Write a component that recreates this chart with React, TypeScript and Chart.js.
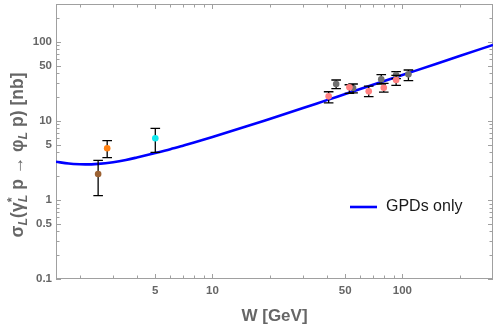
import React, { useEffect, useRef } from "react";
import { Chart, registerables } from "chart.js";

Chart.register(...registerables);

// ---- Model curve: GPDs only ----
const curveW = [1.5, 1.75, 2, 2.14, 2.5, 3, 3.5, 4, 5, 6, 7, 8, 10, 15, 20, 30, 40, 50, 70, 100, 150, 200, 300];
const curveSigma = [3.04, 2.88, 2.82, 2.81, 2.855, 3.0, 3.2, 3.44, 3.92, 4.38, 4.85, 5.31, 6.24, 8.46, 10.57, 14.5, 18.27, 21.8, 28.5, 37.9, 52.4, 66.0, 91.2];
const curveLabel = "GPDs only";

// ---- Data points (W, sigma, lower, upper) ----
const brownW = [2.5];
const brownSigma = [2.13];
const brownLo = [1.13];
const brownHi = [3.17];

const orangeW = [2.79];
const orangeSigma = [4.5];
const orangeLo = [3.42];
const orangeHi = [5.61];

const cyanW = [5.0];
const cyanSigma = [6.01];
const cyanLo = [4.0];
const cyanHi = [8.04];

const pinkW = [40.9, 52.6, 66.5, 79.8, 92.7];
const pinkSigma = [20.4, 26.5, 23.6, 26.2, 32.8];
const pinkLo = [16.9, 22.3, 20.2, 23.1, 28.1];
const pinkHi = [23.3, 28.6, 27.5, 29.8, 37.5];

const grayW = [44.8, 55.0, 77.4, 92.7, 107.6];
const graySigma = [29.2, 26.0, 33.5, 37.9, 38.7];
const grayLo = [25.5, 22.6, 29.2, 34.1, 32.2];
const grayHi = [32.8, 29.2, 38.3, 41.8, 43.9];

// ---- Axes ----
const xMin = 1.5;
const xMax = 300;
const yMin = 0.1;
const yMax = 300;
const xTickValues = [2, 3, 4, 5, 6, 7, 8, 9, 10, 20, 30, 40, 50, 60, 70, 80, 90, 100, 200];
const xTickLabels = [5, 10, 50, 100];
const yTickValues = [0.1, 0.2, 0.3, 0.4, 0.5, 0.6, 0.7, 0.8, 0.9, 1, 2, 3, 4, 5, 6, 7, 8, 9, 10, 20, 30, 40, 50, 60, 70, 80, 90, 100, 200];
const yTickLabels = [0.1, 0.5, 1, 5, 10, 50, 100];
const xTitle = "W [GeV]";

const FONT = '"Liberation Sans", Arial, sans-serif';
const GRAY = "#666666";
const FRAME = "#a0a0a0";

type Seg = { t: string; size: number; italic?: boolean; dy?: number; noAdvance?: boolean };

const yTitleSegs: Seg[] = [
  { t: "σ", size: 17.5 },
  { t: "L", size: 12.5, italic: true, dy: 4 },
  { t: "(γ", size: 17.5 },
  { t: "*", size: 12.5, dy: -7, noAdvance: true },
  { t: "L", size: 12.5, italic: true, dy: 4 },
  { t: " p → φ", size: 17.5 },
  { t: "L", size: 12.5, italic: true, dy: 4 },
  { t: " p) [nb]", size: 17.5 },
];

function segFont(s: Seg) {
  return `${s.italic ? "italic " : ""}bold ${s.size}px ${FONT}`;
}

const framePlugin = {
  id: "frameTicks",
  beforeDatasetsDraw(chart: any) {
    const { ctx, chartArea: a, scales } = chart;
    const x = scales.x;
    const y = scales.y;
    ctx.save();
    ctx.strokeStyle = FRAME;
    ctx.lineWidth = 1;
    ctx.strokeRect(a.left + 0.5, a.top + 0.5, a.right - a.left - 1, a.bottom - a.top - 1);
    ctx.beginPath();
    xTickValues.forEach((v) => {
      const px = Math.round(x.getPixelForValue(v)) + 0.5;
      const len = xTickLabels.includes(v) ? 5 : 3.5;
      ctx.moveTo(px, a.bottom);
      ctx.lineTo(px, a.bottom - len);
      ctx.moveTo(px, a.top);
      ctx.lineTo(px, a.top + len);
    });
    yTickValues.forEach((v) => {
      const py = Math.round(y.getPixelForValue(v)) + 0.5;
      const len = yTickLabels.includes(v) ? 5 : 3.5;
      ctx.moveTo(a.left, py);
      ctx.lineTo(a.left + len, py);
      ctx.moveTo(a.right, py);
      ctx.lineTo(a.right - len, py);
    });
    ctx.stroke();
    ctx.restore();
  },
  beforeDatasetDraw(chart: any, args: any) {
    const ds = chart.data.datasets[args.index];
    if (!ds.errLo) return;
    const { ctx } = chart;
    const x = chart.scales.x;
    const y = chart.scales.y;
    const cap = 4.8;
    ctx.save();
    ctx.strokeStyle = "#000";
    ctx.lineWidth = 1.3;
    ds.data.forEach((p: any, j: number) => {
      const px = x.getPixelForValue(p.x);
      const y1 = y.getPixelForValue(ds.errLo[j]);
      const y2 = y.getPixelForValue(ds.errHi[j]);
      ctx.beginPath();
      ctx.moveTo(px, y1);
      ctx.lineTo(px, y2);
      ctx.moveTo(px - cap, y1);
      ctx.lineTo(px + cap, y1);
      ctx.moveTo(px - cap, y2);
      ctx.lineTo(px + cap, y2);
      ctx.stroke();
    });
    ctx.restore();
  },
  afterDraw(chart: any) {
    const { ctx, chartArea: a } = chart;
    ctx.save();
    // x title
    ctx.fillStyle = GRAY;
    ctx.font = `bold 17px ${FONT}`;
    ctx.textAlign = "center";
    ctx.textBaseline = "middle";
    ctx.fillText(xTitle, (a.left + a.right) / 2, 316);
    // y title (rich text, rotated)
    ctx.textAlign = "left";
    ctx.textBaseline = "alphabetic";
    let total = 0;
    yTitleSegs.forEach((s) => {
      ctx.font = segFont(s);
      if (!s.noAdvance) total += ctx.measureText(s.t).width;
    });
    ctx.translate(23, 155);
    ctx.rotate(-Math.PI / 2);
    let cx = -total / 2;
    yTitleSegs.forEach((s) => {
      ctx.font = segFont(s);
      ctx.fillText(s.t, cx, s.dy || 0);
      if (!s.noAdvance) cx += ctx.measureText(s.t).width;
    });
    ctx.restore();
    // legend
    const line = chart.data.datasets[0];
    ctx.save();
    ctx.strokeStyle = line.borderColor;
    ctx.lineWidth = 2.6;
    ctx.beginPath();
    ctx.moveTo(350, 207);
    ctx.lineTo(377, 207);
    ctx.stroke();
    ctx.fillStyle = "#1a1a1a";
    ctx.font = `16px ${FONT}`;
    ctx.textAlign = "left";
    ctx.textBaseline = "middle";
    ctx.fillText(line.label, 386, 207);
    ctx.restore();
  },
};

function pts(ws: number[], ss: number[]) {
  return ws.map((w, i) => ({ x: w, y: ss[i] }));
}

function pointSet(label: string, ws: number[], ss: number[], lo: number[], hi: number[], color: string) {
  return {
    type: "scatter",
    label,
    data: pts(ws, ss),
    errLo: lo,
    errHi: hi,
    backgroundColor: color,
    borderColor: color,
    borderWidth: 0,
    pointRadius: 3.3,
    order: 0,
  };
}

export default function App() {
  const ref = useRef<HTMLCanvasElement>(null);
  useEffect(() => {
    if (!ref.current) return;
    const chart = new Chart(ref.current, {
      type: "line",
      data: {
        datasets: [
          {
            type: "line",
            label: curveLabel,
            data: pts(curveW, curveSigma),
            borderColor: "#0000ff",
            borderWidth: 2.6,
            pointRadius: 0,
            fill: false,
            cubicInterpolationMode: "monotone",
            order: 1,
          } as any,
          pointSet("brown", brownW, brownSigma, brownLo, brownHi, "#9c6233"),
          pointSet("orange", orangeW, orangeSigma, orangeLo, orangeHi, "#ff8012"),
          pointSet("cyan", cyanW, cyanSigma, cyanLo, cyanHi, "#10e8ee"),
          pointSet("pink", pinkW, pinkSigma, pinkLo, pinkHi, "#ff8080"),
          pointSet("gray", grayW, graySigma, grayLo, grayHi, "#707070"),
        ] as any,
      },
      options: {
        responsive: false,
        animation: false,
        devicePixelRatio: 1,
        layout: { padding: { top: 4, right: 5, left: 0, bottom: 0 } },
        plugins: { legend: { display: false }, tooltip: { enabled: false } },
        scales: {
          x: {
            type: "logarithmic",
            min: xMin,
            max: xMax,
            afterBuildTicks: (s: any) => {
              s.ticks = xTickValues.map((v) => ({ value: v }));
            },
            afterFit: (s: any) => {
              s.height = 48;
              s.paddingLeft = 0;
              s.paddingRight = 0;
            },
            grid: { display: false, drawTicks: false },
            border: { display: false },
            ticks: {
              autoSkip: false,
              maxRotation: 0,
              padding: 5,
              color: GRAY,
              font: { family: FONT, size: 11.5, weight: "bold" },
              callback: (v: any) => (xTickLabels.includes(Number(v)) ? String(v) : ""),
            },
          },
          y: {
            type: "logarithmic",
            min: yMin,
            max: yMax,
            afterBuildTicks: (s: any) => {
              s.ticks = yTickValues.map((v) => ({ value: v }));
            },
            afterFit: (s: any) => {
              s.width = 56;
              s.paddingTop = 0;
              s.paddingBottom = 0;
            },
            grid: { display: false, drawTicks: false },
            border: { display: false },
            ticks: {
              autoSkip: false,
              padding: 4,
              color: GRAY,
              font: { family: FONT, size: 11.5, weight: "bold" },
              callback: (v: any) => (yTickLabels.includes(Number(v)) ? String(v) : ""),
            },
          },
        },
      } as any,
      plugins: [framePlugin as any],
    });
    return () => chart.destroy();
  }, []);
  return (
    <div style={{ position: "absolute", left: 0, top: 0, width: 498, height: 327, background: "#fff" }}>
      <canvas ref={ref} width={498} height={327} style={{ display: "block" }} />
    </div>
  );
}
